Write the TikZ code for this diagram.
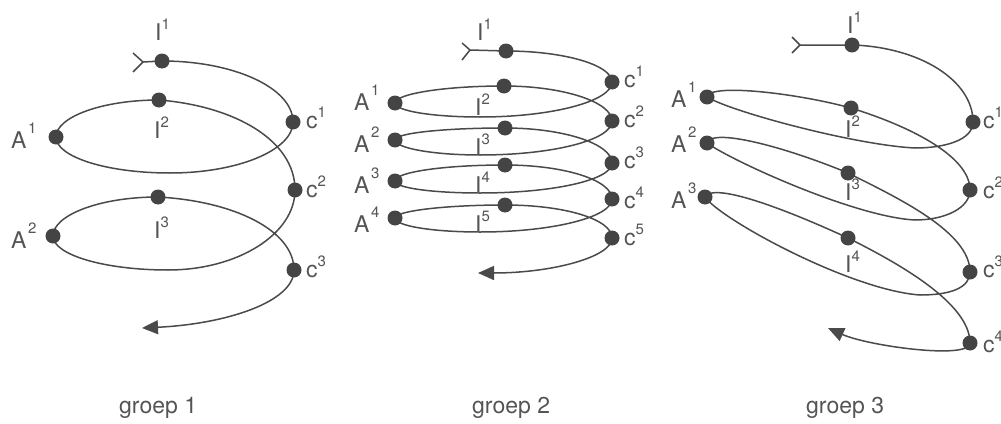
\documentclass[tikz,border=0pt]{standalone}
\usepackage{fontspec}
\setmainfont{TeX Gyre Heros}
\usetikzlibrary{arrows.meta}
\definecolor{linec}{HTML}{4A4A4A}
\definecolor{dotc}{HTML}{444444}
\definecolor{txt}{HTML}{555555}
\newcommand\supx[2][11pt]{\raisebox{#1}{\fontsize{15}{15}\selectfont #2}}
\newcommand\supa[1]{\hspace{1.5pt}\supx[15pt]{#1}}
\tikzset{
  dot/.style={circle, fill=dotc, inner sep=0pt, minimum size=15pt},
  lab/.style={text=txt, font=\fontsize{23}{25}\selectfont, inner sep=0pt, anchor=base west},
  spiral/.style={draw=linec, line width=1.5pt},
  fork/.style={draw=linec, line width=1.5pt},
  endtip/.style={-{Triangle[length=16pt,width=14pt]}},
}
\begin{document}
\begin{tikzpicture}[x=1pt,y=-1pt]
\useasboundingbox (0,0) rectangle (1001,423);
% ---------------- groep 1 ----------------
\coordinate (g1t) at (143,62);
\coordinate (g1I1) at (162,61);
\coordinate (g1c1) at (293,122);
\coordinate (g1B1) at (170,173);
\coordinate (g1A1) at (56,137);
\coordinate (g1I2) at (159,100);
\coordinate (g1c2) at (295,190);
\coordinate (g1B2) at (168,270);
\coordinate (g1A2) at (53,236);
\coordinate (g1I3) at (158,197);
\coordinate (g1c3) at (294,270);
\coordinate (g1e) at (142,328);
\draw[fork] (g1t) -- +(-10,-9) (g1t) -- +(-10,10);
\draw[spiral, endtip] (g1t) -- (g1I1)
  .. controls +(72,0) and +(0,-34) .. (g1c1)
  .. controls +(0,28) and +(68,0) .. (g1B1)
  .. controls +(-63,0) and +(0,20) .. (g1A1)
  .. controls +(0,-20) and +(-57,0) .. (g1I2)
  .. controls +(75,6) and +(0,-50) .. (g1c2)
  .. controls +(0,44) and +(70,0) .. (g1B2)
  .. controls +(-63,0) and +(0,19) .. (g1A2)
  .. controls +(0,-21) and +(-58,0) .. (g1I3)
  .. controls +(75,4) and +(0,-40) .. (g1c3)
  .. controls +(0,32) and +(84,-4) .. (g1e);
\foreach \n in {I1,c1,A1,I2,c2,A2,I3,c3} \node[dot] (g1d\n) at (g1\n) {};
\node[lab] (g1lI1) at (155,40) {I\supx{1}};
\node[lab] (g1lI2) at (154,138) {I\supx{2}};
\node[lab] (g1lI3) at (154,238) {I\supx{3}};
\node[lab] (g1lA1) at (11,148) {A\supa{1}};
\node[lab] (g1lA2) at (11,248) {A\supa{2}};
\node[lab] (g1lc1) at (306,128) {c\supx{1}};
\node[lab] (g1lc2) at (306,197) {c\supx{2}};
\node[lab] (g1lc3) at (306,277) {c\supx{3}};
\node[lab] (g1lg) at (119,413) {groep 1};
% ---------------- groep 2 ----------------
\coordinate (g2t) at (470,50);
\coordinate (g2I1) at (506,51);
\coordinate (g2c1) at (612,82);
\coordinate (g2B1) at (480,117);
\coordinate (g2A1) at (395,103);
\coordinate (g2I2) at (504,86);
\coordinate (g2c2) at (612,121);
\coordinate (g2B2) at (480,155);
\coordinate (g2A2) at (395,140);
\coordinate (g2I3) at (505,128);
\coordinate (g2c3) at (612,163);
\coordinate (g2B3) at (480,193);
\coordinate (g2A3) at (395,181);
\coordinate (g2I4) at (505,165);
\coordinate (g2c4) at (612,199);
\coordinate (g2B4) at (480,232);
\coordinate (g2A4) at (395,218);
\coordinate (g2I5) at (505,205);
\coordinate (g2c5) at (612,238);
\coordinate (g2e) at (478,273);
\draw[fork] (g2t) -- +(-8,-7) (g2t) -- +(-8,10);
\draw[spiral, endtip] (g2t) -- (g2I1)
  .. controls +(58,0) and +(0,-17) .. (g2c1)
  .. controls +(0,19) and +(73,0) .. (g2B1)
  .. controls +(-47,0) and +(0,8) .. (g2A1)
  .. controls +(0,-9) and +(-60,0) .. (g2I2)
  .. controls +(59,0) and +(0,-19) .. (g2c2)
  .. controls +(0,19) and +(73,0) .. (g2B2)
  .. controls +(-47,0) and +(0,8) .. (g2A2)
  .. controls +(0,-7) and +(-60,0) .. (g2I3)
  .. controls +(59,0) and +(0,-19) .. (g2c3)
  .. controls +(0,17) and +(73,0) .. (g2B3)
  .. controls +(-47,0) and +(0,7) .. (g2A3)
  .. controls +(0,-9) and +(-60,0) .. (g2I4)
  .. controls +(59,0) and +(0,-19) .. (g2c4)
  .. controls +(0,18) and +(73,0) .. (g2B4)
  .. controls +(-47,0) and +(0,8) .. (g2A4)
  .. controls +(0,-7) and +(-60,0) .. (g2I5)
  .. controls +(59,0) and +(0,-19) .. (g2c5)
  .. controls +(0,19) and +(74,0) .. (g2e);
\foreach \n in {I1,c1,A1,I2,c2,A2,I3,c3,A3,I4,c4,A4,I5,c5} \node[dot] (g2d\n) at (g2\n) {};
\node[lab] (g2lI1) at (477,40) {I\supx{1}};
\node[lab] (g2lI2) at (475,115) {I\supx{2}};
\node[lab] (g2lI3) at (475,155) {I\supx{3}};
\node[lab] (g2lI4) at (475,193) {I\supx{4}};
\node[lab] (g2lI5) at (475,232) {I\supx{5}};
\node[lab] (g2lA1) at (354,110) {A\supa{1}};
\node[lab] (g2lA2) at (354,152) {A\supa{2}};
\node[lab] (g2lA3) at (354,193) {A\supa{3}};
\node[lab] (g2lA4) at (354,232) {A\supa{4}};
\node[lab] (g2lc1) at (624,87) {c\supx{1}};
\node[lab] (g2lc2) at (624,127) {c\supx{2}};
\node[lab] (g2lc3) at (624,168) {c\supx{3}};
\node[lab] (g2lc4) at (624,208) {c\supx{4}};
\node[lab] (g2lc5) at (624,245) {c\supx{5}};
\node[lab] (g2lg) at (472,413) {groep 2};
% ---------------- groep 3 ----------------
\coordinate (g3t) at (800,45);
\coordinate (g3I1) at (852,45);
\coordinate (g3c1) at (973,122);
\coordinate (g3B1) at (915,148);
\coordinate (g3A1) at (707,97);
\coordinate (g3I2) at (851,108);
\coordinate (g3c2) at (970,190);
\coordinate (g3B2) at (915,220);
\coordinate (g3A2) at (707,143);
\coordinate (g3I3) at (848,173);
\coordinate (g3c3) at (970,272);
\coordinate (g3B3) at (920,295);
\coordinate (g3A3) at (705,197);
\coordinate (g3I4) at (848,238);
\coordinate (g3c4) at (970,343);
\coordinate (g3e) at (828,328);
\draw[fork] (g3t) -- +(-8,-8) (g3t) -- +(-8,8);
\draw[spiral, endtip] (g3t) -- (g3I1)
  .. controls +(67,2) and +(0,-42) .. (g3c1)
  .. controls +(0,18) and +(30,0) .. (g3B1)
  .. controls +(-60,-3) and +(25,15) .. (g3A1)
  .. controls +(2,-14) and +(-55,-15) .. (g3I2)
  .. controls +(55,17) and +(0,-35) .. (g3c2)
  .. controls +(0,18) and +(30,0) .. (g3B2)
  .. controls +(-60,-3) and +(25,18) .. (g3A2)
  .. controls +(5,-16) and +(-60,-25) .. (g3I3)
  .. controls +(50,25) and +(0,-40) .. (g3c3)
  .. controls +(0,16) and +(30,0) .. (g3B3)
  .. controls +(-70,-5) and +(15,22) .. (g3A3)
  .. controls +(8,-15) and +(-65,-30) .. (g3I4)
  .. controls +(50,25) and +(0,-40) .. (g3c4)
  .. controls +(0,17) and +(40,18) .. (g3e);
\foreach \n in {I1,c1,A1,I2,c2,A2,I3,c3,A3,I4,c4} \node[dot] (g3d\n) at (g3\n) {};
\node[lab] (g3lI1) at (847,33) {I\supx{1}};
\node[lab] (g3lI2) at (845,137) {I\supx{2}};
\node[lab] (g3lI3) at (845,200) {I\supx{3}};
\node[lab] (g3lI4) at (845,272) {I\supx{4}};
\node[lab] (g3lA1) at (671,107) {A\supa{1}};
\node[lab] (g3lA2) at (671,152) {A\supa{2}};
\node[lab] (g3lA3) at (671,208) {A\supa{3}};
\node[lab] (g3lc1) at (983,128) {c\supx{1}};
\node[lab] (g3lc2) at (983,198) {c\supx{2}};
\node[lab] (g3lc3) at (983,277) {c\supx{3}};
\node[lab] (g3lc4) at (983,352) {c\supx{4}};
\node[lab] (g3lg) at (806,413) {groep 3};
\end{tikzpicture}
\end{document}
